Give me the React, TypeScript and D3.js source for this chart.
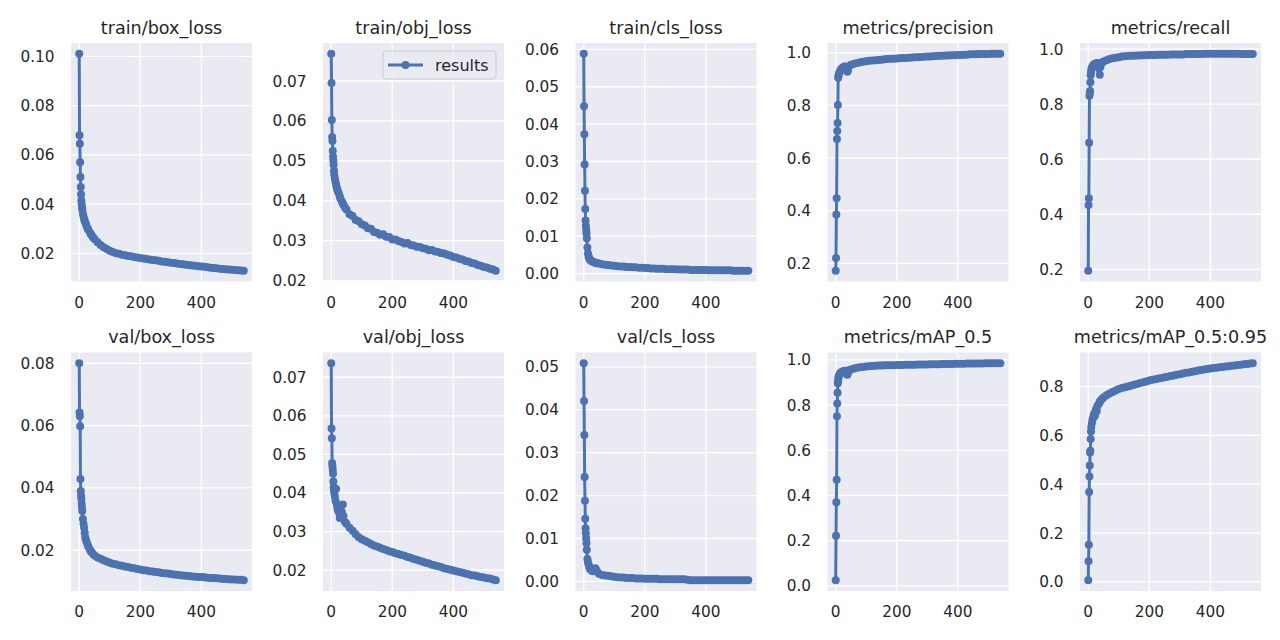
import React from 'react';
import * as d3 from 'd3';

// ---- data ----
const EPOCHS = [0,1,2,3,4,5,6,7,8,9,10,12,14,16,18,20,22,25,28,30,35,38,40,45,
  50,60,70,80,90,100,110,120,130,140,150,160,170,180,190,200,210,220,230,240,250,260,270,280,290,300,
  310,320,330,340,350,360,370,380,390,400,410,420,430,440,450,460,470,480,490,500,510,520,530,539];

const TRAIN_BOX = [0.101,0.068,0.0645,0.057,0.051,0.047,0.044,0.0415,0.040,0.0388,0.0378,0.0362,0.035,0.034,0.0332,0.0325,0.0318,0.0308,0.0300,0.0296,0.0285,0.0279,0.0275,0.0266,
  0.0258,0.0245,0.0234,0.0225,0.0218,0.0211,0.0206,0.0201,0.0199,0.0195,0.0193,0.0190,0.0188,0.0185,0.0183,0.0181,0.0179,0.0177,0.0175,0.0173,0.0172,0.0170,0.0167,0.0166,0.0164,0.0162,
  0.0161,0.0159,0.0157,0.0156,0.0154,0.0153,0.0151,0.0150,0.0148,0.0147,0.0146,0.0144,0.0142,0.0141,0.0140,0.0138,0.0137,0.0136,0.0135,0.0134,0.0133,0.0132,0.0131,0.0130];
const TRAIN_OBJ = [0.0768,0.0695,0.0602,0.0560,0.0550,0.0525,0.0510,0.0500,0.0490,0.0475,0.0465,0.0455,0.0447,0.0440,0.0434,0.0428,0.0423,0.0418,0.0411,0.0406,0.0398,0.0393,0.0390,0.0383,
  0.0378,0.0366,0.0362,0.0352,0.0349,0.0341,0.0338,0.0331,0.0330,0.0322,0.0320,0.0315,0.0316,0.0310,0.0309,0.0303,0.0303,0.0299,0.0297,0.0293,0.0294,0.0289,0.0288,0.0285,0.0284,0.0281,
  0.0280,0.0276,0.0277,0.0273,0.0272,0.0269,0.0268,0.0265,0.0263,0.0259,0.0258,0.0255,0.0253,0.0249,0.0248,0.0244,0.0243,0.0239,0.0237,0.0234,0.0233,0.0230,0.0228,0.0225];
const TRAIN_CLS = [0.0588,0.0448,0.0373,0.0292,0.0222,0.0173,0.0142,0.0128,0.0118,0.0108,0.0095,0.0070,0.0054,0.0046,0.0041,0.0038,0.0036,0.0034,0.0033,0.0032,0.0030,0.0029,0.0029,0.0028,
  0.0027,0.0025,0.0024,0.0023,0.0022,0.0021,0.0020,0.0019,0.0019,0.0018,0.0018,0.0017,0.0017,0.0016,0.0016,0.0015,0.0015,0.0014,0.0014,0.0013,0.0013,0.0013,0.0012,0.0012,0.0012,0.0012,
  0.0011,0.0011,0.0011,0.0011,0.0010,0.0010,0.0010,0.0010,0.0010,0.0010,0.0009,0.0009,0.0009,0.0009,0.0009,0.0009,0.0009,0.0009,0.0008,0.0008,0.0008,0.0008,0.0008,0.0008];
const PRECISION = [0.172,0.220,0.385,0.447,0.672,0.703,0.733,0.802,0.905,0.912,0.918,0.925,0.930,0.934,0.937,0.940,0.942,0.945,0.947,0.948,0.935,0.928,0.932,0.950,
  0.955,0.958,0.961,0.964,0.966,0.968,0.970,0.971,0.972,0.973,0.974,0.975,0.976,0.977,0.977,0.978,0.979,0.980,0.980,0.981,0.982,0.983,0.983,0.984,0.985,0.986,
  0.986,0.987,0.988,0.989,0.989,0.990,0.990,0.991,0.991,0.992,0.992,0.993,0.993,0.994,0.994,0.994,0.995,0.995,0.995,0.995,0.996,0.996,0.996,0.996];
const RECALL = [0.195,0.434,0.458,0.660,0.831,0.840,0.848,0.880,0.905,0.915,0.925,0.932,0.937,0.940,0.943,0.945,0.946,0.948,0.949,0.950,0.930,0.907,0.935,0.950,
  0.955,0.960,0.964,0.967,0.969,0.971,0.973,0.974,0.975,0.976,0.976,0.977,0.977,0.978,0.978,0.979,0.979,0.979,0.980,0.980,0.980,0.980,0.981,0.981,0.981,0.981,
  0.981,0.982,0.982,0.982,0.982,0.982,0.982,0.983,0.983,0.983,0.983,0.983,0.983,0.983,0.983,0.983,0.983,0.983,0.983,0.982,0.982,0.982,0.982,0.982];
const VAL_BOX = [0.080,0.0642,0.063,0.0598,0.0429,0.039,0.0375,0.0365,0.035,0.0337,0.0326,0.030,0.0285,0.0272,0.0255,0.0240,0.0232,0.0225,0.0216,0.0211,0.0202,0.0197,0.0194,0.0188,
  0.0183,0.0177,0.0173,0.0168,0.0164,0.0160,0.0157,0.0155,0.0152,0.0150,0.0148,0.0146,0.0144,0.0142,0.0140,0.0138,0.0136,0.0135,0.0133,0.0132,0.0130,0.0129,0.0127,0.0126,0.0125,0.0124,
  0.0122,0.0121,0.0120,0.0119,0.0118,0.0117,0.0116,0.0115,0.0114,0.0114,0.0113,0.0112,0.0111,0.0111,0.0110,0.0109,0.0108,0.0108,0.0107,0.0106,0.0106,0.0105,0.0105,0.0104];
const VAL_OBJ = [0.0736,0.0567,0.0542,0.0478,0.0470,0.0460,0.0450,0.0430,0.0415,0.0408,0.0400,0.0390,0.0380,0.0410,0.0372,0.0362,0.0355,0.0350,0.0335,0.0345,0.0350,0.0370,0.0340,0.0325,
  0.0320,0.0310,0.0302,0.0293,0.0285,0.0280,0.0276,0.0272,0.0268,0.0264,0.0261,0.0258,0.0255,0.0252,0.0249,0.0247,0.0244,0.0242,0.0239,0.0237,0.0234,0.0232,0.0229,0.0227,0.0224,0.0222,
  0.0219,0.0217,0.0214,0.0212,0.0210,0.0208,0.0205,0.0203,0.0201,0.0199,0.0197,0.0195,0.0193,0.0191,0.0189,0.0187,0.0186,0.0184,0.0182,0.0181,0.0179,0.0178,0.0176,0.0174];
const VAL_CLS = [0.0508,0.0420,0.0341,0.0243,0.0188,0.0146,0.0124,0.0112,0.0100,0.0089,0.0074,0.0052,0.0045,0.0040,0.0034,0.0030,0.0028,0.0026,0.0025,0.0024,0.0026,0.0031,0.0028,0.0022,
  0.0018,0.0015,0.0014,0.0013,0.0012,0.0011,0.0010,0.0009,0.0009,0.0008,0.0008,0.0008,0.0007,0.0007,0.0007,0.0006,0.0006,0.0006,0.0006,0.0006,0.0005,0.0005,0.0005,0.0005,0.0005,0.0005,
  0.0005,0.0005,0.0005,0.0004,0.0003,0.0003,0.0003,0.0003,0.0003,0.0003,0.0003,0.0003,0.0003,0.0003,0.0003,0.0003,0.0003,0.0003,0.0003,0.0003,0.0003,0.0003,0.0003,0.0003];
const MAP50 = [0.025,0.222,0.370,0.470,0.751,0.807,0.855,0.897,0.910,0.920,0.928,0.935,0.940,0.943,0.945,0.947,0.948,0.950,0.951,0.952,0.940,0.935,0.942,0.955,
  0.958,0.962,0.965,0.968,0.969,0.971,0.972,0.973,0.974,0.975,0.975,0.976,0.976,0.977,0.977,0.978,0.978,0.978,0.979,0.979,0.979,0.979,0.980,0.980,0.980,0.980,
  0.981,0.981,0.981,0.981,0.982,0.982,0.982,0.982,0.983,0.983,0.983,0.983,0.984,0.984,0.984,0.984,0.984,0.984,0.985,0.985,0.985,0.985,0.985,0.985];
const MAP5095 = [0.007,0.084,0.152,0.368,0.432,0.477,0.530,0.537,0.585,0.616,0.634,0.650,0.665,0.672,0.683,0.690,0.680,0.705,0.700,0.720,0.730,0.738,0.742,0.749,
  0.755,0.764,0.771,0.778,0.784,0.790,0.794,0.797,0.800,0.803,0.807,0.810,0.814,0.818,0.821,0.825,0.828,0.830,0.833,0.835,0.838,0.840,0.843,0.845,0.848,0.850,
  0.853,0.856,0.858,0.861,0.863,0.866,0.868,0.870,0.872,0.874,0.876,0.877,0.879,0.880,0.882,0.883,0.885,0.886,0.888,0.889,0.891,0.892,0.894,0.895];

const TITLES = ['train/box_loss','train/obj_loss','train/cls_loss','metrics/precision','metrics/recall','val/box_loss','val/obj_loss','val/cls_loss','metrics/mAP_0.5','metrics/mAP_0.5:0.95'];
const SERIES = [TRAIN_BOX, TRAIN_OBJ, TRAIN_CLS, PRECISION, RECALL, VAL_BOX, VAL_OBJ, VAL_CLS, MAP50, MAP5095];
const X_TICKS = [0, 200, 400];
const Y_TICKS = [
  [0.02,0.04,0.06,0.08,0.10],
  [0.02,0.03,0.04,0.05,0.06,0.07],
  [0.00,0.01,0.02,0.03,0.04,0.05,0.06],
  [0.2,0.4,0.6,0.8,1.0],
  [0.2,0.4,0.6,0.8,1.0],
  [0.02,0.04,0.06,0.08],
  [0.02,0.03,0.04,0.05,0.06,0.07],
  [0.00,0.01,0.02,0.03,0.04,0.05],
  [0.0,0.2,0.4,0.6,0.8,1.0],
  [0.0,0.2,0.4,0.6,0.8],
];
const Y_DECIMALS = [2,2,2,1,1,2,2,2,1,1];
const LEGEND_LABEL = 'results';

// ---- layout ----
const COL_LEFTS = [71, 323, 575.5, 827.5, 1080];
const ROW_TOPS = [43, 352.5];
const AX_W = 181;
const AX_H = 238.5;
const BLUE = '#4C72B0';
const TEXT = '#262626';
const FONT = '"DejaVu Sans", sans-serif';
const R = 4;

function Panel({ idx }: { idx: number }) {
  const col = idx % 5;
  const row = Math.floor(idx / 5);
  const left = COL_LEFTS[col];
  const top = ROW_TOPS[row];
  const vals = SERIES[idx];
  const [x0, x1] = d3.extent(EPOCHS) as [number, number];
  const [y0, y1] = d3.extent(vals) as [number, number];
  const xm = (x1 - x0) * 0.05;
  const ym = (y1 - y0) * 0.05;
  const x = d3.scaleLinear().domain([x0 - xm, x1 + xm]).range([left, left + AX_W]);
  const y = d3.scaleLinear().domain([y0 - ym, y1 + ym]).range([top + AX_H, top]);
  const yt = Y_TICKS[idx];
  const fmt = d3.format('.' + Y_DECIMALS[idx] + 'f');
  const pts = EPOCHS.map((e, i) => [e, vals[i]] as [number, number]).filter(p => p[1] !== undefined);
  const line = d3.line<[number, number]>().x(d => x(d[0])).y(d => y(d[1]));
  const clipId = 'clip' + idx;
  return (
    <g>
      <defs>
        <clipPath id={clipId}>
          <rect x={left} y={top} width={AX_W} height={AX_H} />
        </clipPath>
      </defs>
      <rect x={left} y={top} width={AX_W} height={AX_H} fill="#EAEAF2" />
      {X_TICKS.map(t => (
        <line key={'gx' + t} x1={x(t)} x2={x(t)} y1={top} y2={top + AX_H} stroke="#fff" strokeWidth={1.3} />
      ))}
      {yt.map(t => (
        <line key={'gy' + t} x1={left} x2={left + AX_W} y1={y(t)} y2={y(t)} stroke="#fff" strokeWidth={1.3} />
      ))}
      <g clipPath={`url(#${clipId})`}>
        <path d={line(pts) || ''} fill="none" stroke={BLUE} strokeWidth={3} strokeLinejoin="round" />
        {pts.map((p, i) => (
          <circle key={i} cx={x(p[0])} cy={y(p[1])} r={R} fill={BLUE} />
        ))}
      </g>
      {X_TICKS.map(t => (
        <text key={'tx' + t} x={x(t)} y={top + AX_H + 26} textAnchor="middle" fontSize={15.3} fill={TEXT} fontFamily={FONT}>{String(t)}</text>
      ))}
      {yt.map(t => (
        <text key={'ty' + t} x={left - 16.5} y={y(t)} dy="0.36em" textAnchor="end" fontSize={15.3} fill={TEXT} fontFamily={FONT}>{fmt(t)}</text>
      ))}
      <text x={left + AX_W / 2} y={top - 9.5} textAnchor="middle" fontSize={17.6} fill={TEXT} fontFamily={FONT}>{TITLES[idx]}</text>
      {idx === 1 && (
        <g>
          <rect x={left + AX_W - 121} y={top + 8} width={113} height={28} rx={3} fill="#EAEAF2" fillOpacity={0.8} stroke="#CCCCCC" strokeWidth={1} />
          <line x1={left + AX_W - 116} x2={left + AX_W - 81} y1={top + 22} y2={top + 22} stroke={BLUE} strokeWidth={3} />
          <circle cx={left + AX_W - 98.5} cy={top + 22} r={R} fill={BLUE} />
          <text x={left + AX_W - 69} y={top + 22} dy="0.36em" fontSize={16} fill={TEXT} fontFamily={FONT}>{LEGEND_LABEL}</text>
        </g>
      )}
    </g>
  );
}

export default function App() {
  return (
    <svg width={1280} height={640} style={{ position: 'absolute', left: 0, top: 0, background: '#fff' }}>
      <rect x={0} y={0} width={1280} height={640} fill="#fff" />
      {TITLES.map((_, i) => <Panel key={i} idx={i} />)}
    </svg>
  );
}
